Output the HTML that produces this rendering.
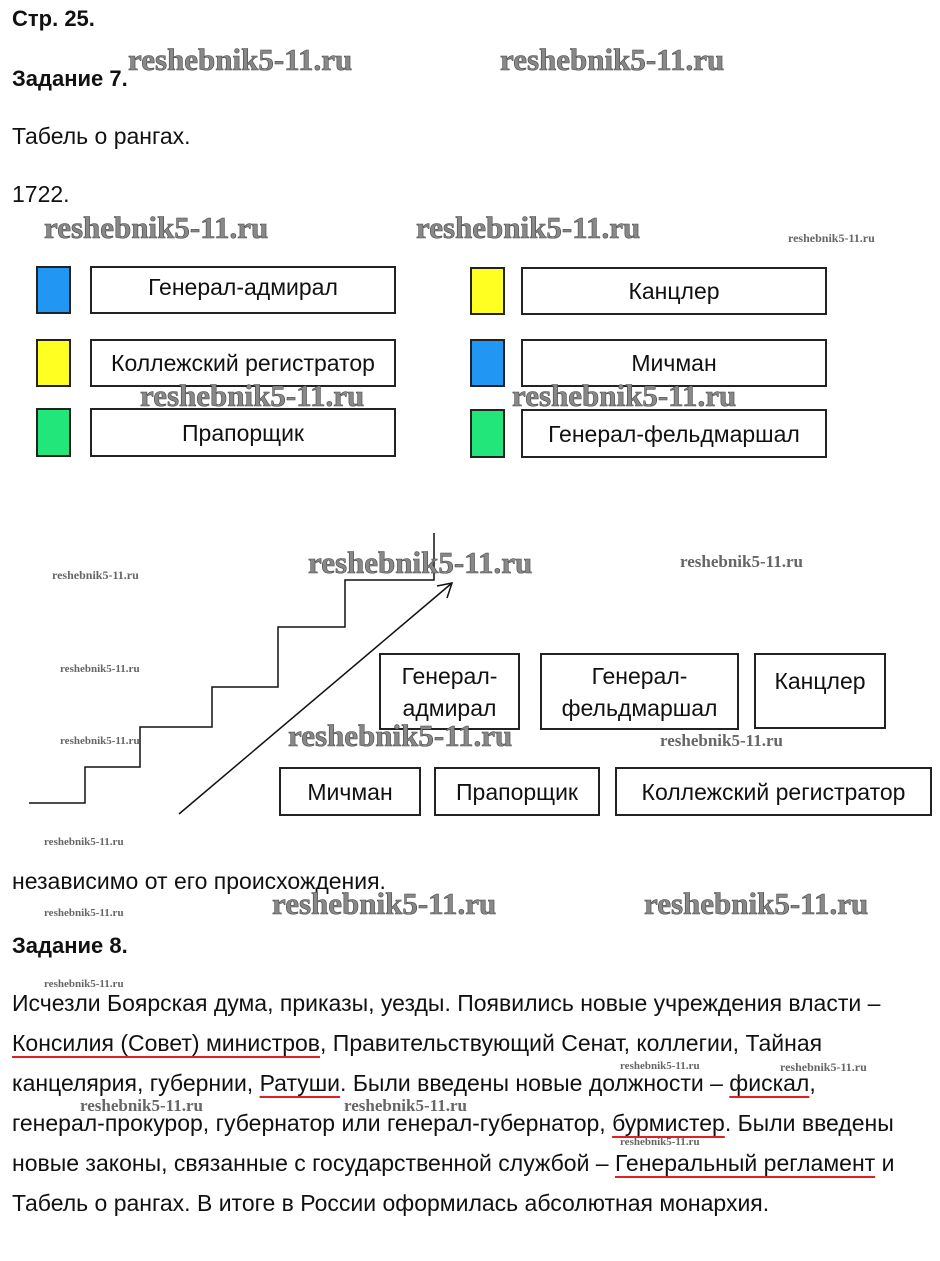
<!DOCTYPE html>
<html><head><meta charset="utf-8"><style>
body{margin:0;width:940px;height:1261px;background:#fff;position:relative;font-family:"Liberation Sans",sans-serif;color:#111;overflow:hidden}
.a{position:absolute;white-space:nowrap}
.t{font-size:23px}
.b{font-weight:bold;font-size:22px}
.box{position:absolute;border:2px solid #222;box-sizing:border-box;display:flex;align-items:center;justify-content:center;text-align:center;font-size:23px;line-height:32px}
.sq{position:absolute;border:2px solid #222;box-sizing:border-box}
.w{position:absolute;white-space:nowrap;font-family:"Liberation Serif",serif;font-weight:bold;color:#888;-webkit-text-stroke:0.6px #444}
.wl{font-size:31px}.ws{font-size:12px;color:#666;-webkit-text-stroke:0}
.u{text-decoration:underline;text-decoration-color:#e02020;text-decoration-thickness:2px;text-underline-offset:5px}
</style></head><body>
<div class="a b" style="left:12px;top:6px">Стр. 25.</div>
<div class="a b" style="left:12px;top:66px">Задание 7.</div>
<div class="a t" style="left:12px;top:123px">Табель о рангах.</div>
<div class="a t" style="left:12px;top:181px">1722.</div>

<div class="w wl" style="left:128px;top:42px">reshebnik5-11.ru</div>
<div class="w wl" style="left:500px;top:42px">reshebnik5-11.ru</div>
<div class="w wl" style="left:44px;top:210px">reshebnik5-11.ru</div>
<div class="w wl" style="left:416px;top:210px">reshebnik5-11.ru</div>
<div class="w ws" style="left:788px;top:231px">reshebnik5-11.ru</div>

<div class="sq" style="left:36px;top:266px;width:35px;height:48px;background:#2196f3"></div>
<div class="sq" style="left:36px;top:339px;width:35px;height:48px;background:#ffff22"></div>
<div class="sq" style="left:36px;top:408px;width:35px;height:49px;background:#22e67a"></div>
<div class="sq" style="left:470px;top:267px;width:35px;height:48px;background:#ffff22"></div>
<div class="sq" style="left:470px;top:339px;width:35px;height:48px;background:#2196f3"></div>
<div class="sq" style="left:470px;top:409px;width:35px;height:49px;background:#22e67a"></div>

<div class="box" style="left:90px;top:266px;width:306px;height:48px;padding-bottom:6px">Генерал-адмирал</div>
<div class="box" style="left:90px;top:339px;width:306px;height:48px">Коллежский регистратор</div>
<div class="box" style="left:90px;top:408px;width:306px;height:49px">Прапорщик</div>
<div class="box" style="left:521px;top:267px;width:306px;height:48px">Канцлер</div>
<div class="box" style="left:521px;top:339px;width:306px;height:48px">Мичман</div>
<div class="box" style="left:521px;top:409px;width:306px;height:49px">Генерал-фельдмаршал</div>
<div class="w wl" style="left:140px;top:378px">reshebnik5-11.ru</div>
<div class="w wl" style="left:512px;top:378px">reshebnik5-11.ru</div>

<svg class="a" style="left:0;top:0" width="940" height="1261">
<polyline points="29,803 85,803 85,767 140,767 140,727 212,727 212,687 278,687 278,627 345,627 345,580 434,580 434,533" fill="none" stroke="#111" stroke-width="1.5"/>
<line x1="179" y1="814" x2="452" y2="583" stroke="#111" stroke-width="1.5"/>
<polyline points="437,586 452,583 447,598" fill="none" stroke="#111" stroke-width="1.5"/>
</svg>

<div class="box" style="left:379px;top:653px;width:141px;height:77px">Генерал-<br>адмирал</div>
<div class="box" style="left:540px;top:653px;width:199px;height:77px">Генерал-<br>фельдмаршал</div>
<div class="box" style="left:754px;top:653px;width:132px;height:76px;align-items:flex-start;padding-top:10px">Канцлер</div>
<div class="box" style="left:279px;top:767px;width:142px;height:49px">Мичман</div>
<div class="box" style="left:434px;top:767px;width:166px;height:49px">Прапорщик</div>
<div class="box" style="left:615px;top:767px;width:317px;height:49px">Коллежский регистратор</div>

<div class="w wl" style="left:308px;top:545px">reshebnik5-11.ru</div>
<div class="w ws" style="left:680px;top:552px;font-size:17px">reshebnik5-11.ru</div>
<div class="w ws" style="left:52px;top:568px">reshebnik5-11.ru</div>
<div class="w ws" style="left:60px;top:663px;font-size:11px">reshebnik5-11.ru</div>
<div class="w ws" style="left:60px;top:735px;font-size:11px">reshebnik5-11.ru</div>
<div class="w wl" style="left:288px;top:718px">reshebnik5-11.ru</div>
<div class="w ws" style="left:660px;top:731px;font-size:17px">reshebnik5-11.ru</div>
<div class="w ws" style="left:44px;top:836px;font-size:11px">reshebnik5-11.ru</div>

<div class="a t" style="left:12px;top:868px">независимо от его происхождения.</div>
<div class="w ws" style="left:44px;top:907px;font-size:11px">reshebnik5-11.ru</div>
<div class="w wl" style="left:272px;top:886px">reshebnik5-11.ru</div>
<div class="w wl" style="left:644px;top:886px">reshebnik5-11.ru</div>
<div class="a b" style="left:12px;top:933px">Задание 8.</div>
<div class="w ws" style="left:44px;top:978px;font-size:11px">reshebnik5-11.ru</div>

<div class="a t" style="left:12px;top:983px;line-height:40px">
Исчезли Боярская дума, приказы, уезды. Появились новые учреждения власти –<br>
<span class="u">Консилия (Совет) министров</span>, Правительствующий Сенат, коллегии, Тайная<br>
канцелярия, губернии, <span class="u">Ратуши</span>. Были введены новые должности – <span class="u">фискал</span>,<br>
генерал-прокурор, губернатор или генерал-губернатор, <span class="u">бурмистер</span>. Были введены<br>
новые законы, связанные с государственной службой – <span class="u">Генеральный регламент</span> и<br>
Табель о рангах. В итоге в России оформилась абсолютная монархия.</div>
<div class="w ws" style="left:620px;top:1060px;font-size:11px">reshebnik5-11.ru</div>
<div class="w ws" style="left:780px;top:1060px">reshebnik5-11.ru</div>
<div class="w ws" style="left:80px;top:1096px;font-size:17px">reshebnik5-11.ru</div>
<div class="w ws" style="left:344px;top:1096px;font-size:17px">reshebnik5-11.ru</div>
<div class="w ws" style="left:620px;top:1136px;font-size:11px">reshebnik5-11.ru</div>
</body></html>
